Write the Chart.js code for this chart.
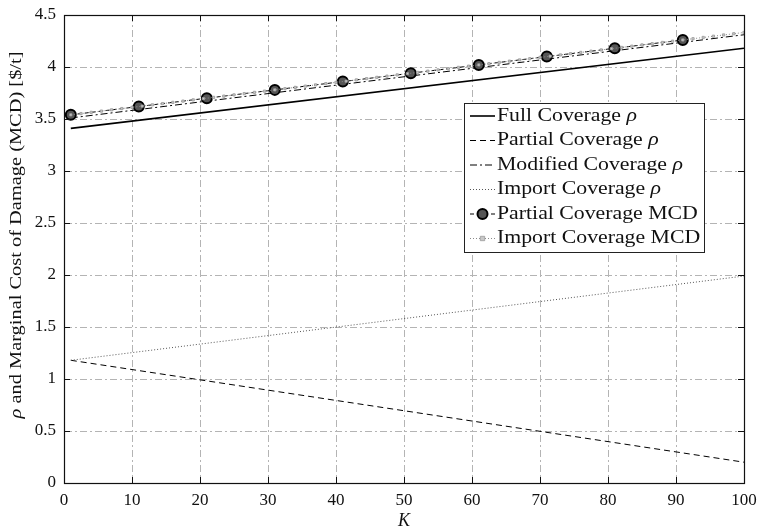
<!DOCTYPE html>
<html>
<head>
<meta charset="utf-8">
<script src="https://cdn.jsdelivr.net/npm/chart.js@4/dist/chart.umd.min.js"></script>
<style>
  html, body { margin: 0; padding: 0; background: #fff; }
  #wrap { width: 759px; height: 531px; }
</style>
</head>
<body>
<div id="wrap"><canvas id="c" width="759" height="531"></canvas></div>
<script>
// ---- data ----
const kEnds = [1, 100];
const fullRho = [3.41, 4.18];
const partialRho = [1.18, 0.20];
const modifiedRho = [3.51, 4.31];
const importRho = [1.18, 1.99];

const kMcd = [1, 11, 21, 31, 41, 51, 61, 71, 81, 91];
const partialMcd = [3.54, 3.62, 3.70, 3.78, 3.86, 3.94, 4.02, 4.10, 4.18, 4.26];

const kImportMcd = [1, 2.5, 4, 5.5, 7, 8.5, 10, 11.5, 13, 14.5, 16, 17.5, 19, 20.5, 22, 23.5,
  25, 26.5, 28, 29.5, 31, 32.5, 34, 35.5, 37, 38.5, 40, 41.5, 43, 44.5, 46, 47.5, 49, 50.5,
  52, 53.5, 55, 56.5, 58, 59.5, 61, 62.5, 64, 65.5, 67, 68.5, 70, 71.5, 73, 74.5, 76, 77.5,
  79, 80.5, 82, 83.5, 85, 86.5, 88, 89.5, 91, 92.5, 94, 95.5, 97, 98.5, 100];
const importMcd = [3.540, 3.552, 3.564, 3.576, 3.588, 3.600, 3.612, 3.624, 3.636, 3.648,
  3.660, 3.672, 3.684, 3.696, 3.708, 3.720, 3.732, 3.744, 3.756, 3.768,
  3.780, 3.792, 3.804, 3.816, 3.828, 3.840, 3.852, 3.864, 3.876, 3.888,
  3.900, 3.912, 3.924, 3.936, 3.948, 3.960, 3.972, 3.984, 3.996, 4.008,
  4.020, 4.032, 4.044, 4.056, 4.068, 4.080, 4.092, 4.104, 4.116, 4.128,
  4.140, 4.152, 4.164, 4.176, 4.188, 4.200, 4.212, 4.224, 4.236, 4.248,
  4.260, 4.272, 4.284, 4.296, 4.308, 4.320, 4.332];

const xTickValues = [0, 10, 20, 30, 40, 50, 60, 70, 80, 90, 100];
const xTickLabels = ['0', '10', '20', '30', '40', '50', '60', '70', '80', '90', '100'];
const yTickValues = [0, 0.5, 1, 1.5, 2, 2.5, 3, 3.5, 4, 4.5];
const yTickLabels = ['0', '0.5', '1', '1.5', '2', '2.5', '3', '3.5', '4', '4.5'];

const legendLabels = [
  ['Full Coverage ', 'ρ'],
  ['Partial Coverage ', 'ρ'],
  ['Modified Coverage ', 'ρ'],
  ['Import Coverage ', 'ρ'],
  ['Partial Coverage MCD', ''],
  ['Import Coverage MCD', '']
];

// ---- helpers ----
const SERIF = '"Liberation Serif", "DejaVu Serif", serif';
const WIDE = 1.2;   // horizontal stretch for the wide book-style lettering
const pts = (xs, ys) => xs.map((x, i) => ({ x: x, y: ys[i] }));

const DASH_DOT = [7, 3, 2, 3];

const datasets = [
  { label: legendLabels[0].join(''), data: pts(kEnds, fullRho), borderColor: '#000', borderWidth: 1.6,
    pointRadius: 0, order: 5 },
  { label: legendLabels[1].join(''), data: pts(kEnds, partialRho), borderColor: '#000', borderWidth: 1,
    borderDash: [6, 4], pointRadius: 0, order: 4 },
  { label: legendLabels[2].join(''), data: pts(kEnds, modifiedRho), borderColor: '#000', borderWidth: 1,
    borderDash: DASH_DOT, pointRadius: 0, order: 3 },
  { label: legendLabels[3].join(''), data: pts(kEnds, importRho), borderColor: '#555', borderWidth: 1,
    borderDash: [1, 2], pointRadius: 0, order: 2 },
  { label: legendLabels[4].join(''), data: pts(kMcd, partialMcd), borderColor: '#000', borderWidth: 1,
    borderDash: [4, 3], pointRadius: 5, pointStyle: 'circle', pointBackgroundColor: '#555',
    pointBorderColor: '#000', pointBorderWidth: 2, order: 1 },
  { label: legendLabels[5].join(''), data: pts(kImportMcd, importMcd), borderColor: '#8a8a8a', borderWidth: 1,
    borderDash: [1, 2], pointRadius: 1.6, pointStyle: 'rect', pointBackgroundColor: '#c8c8c8',
    pointBorderColor: '#9a9a9a', pointBorderWidth: 0.8, order: 0 }
];

// draws text stretched horizontally, starting at x (left aligned)
function wideText(ctx, text, x, y, k) {
  const s = k || WIDE;
  ctx.save();
  ctx.translate(x, y);
  ctx.scale(s, 1);
  ctx.textAlign = 'left';
  ctx.fillText(text, 0, 0);
  ctx.restore();
  return ctx.measureText(text).width * s;
}

// frame, inward ticks, axis titles and the boxed legend
const decorations = {
  id: 'decorations',
  afterDraw(chart) {
    const ctx = chart.ctx;
    const a = chart.chartArea;
    const xs = chart.scales.x, ys = chart.scales.y;
    ctx.save();

    // inward tick marks on all four sides
    ctx.strokeStyle = '#111';
    ctx.lineWidth = 1;
    ctx.setLineDash([]);
    const tl = 6;
    ctx.beginPath();
    xTickValues.forEach(v => {
      const px = Math.round(xs.getPixelForValue(v)) + 0.5;
      ctx.moveTo(px, a.bottom); ctx.lineTo(px, a.bottom - tl);
      ctx.moveTo(px, a.top); ctx.lineTo(px, a.top + tl);
    });
    yTickValues.forEach(v => {
      const py = Math.round(ys.getPixelForValue(v)) + 0.5;
      ctx.moveTo(a.left, py); ctx.lineTo(a.left + tl, py);
      ctx.moveTo(a.right, py); ctx.lineTo(a.right - tl, py);
    });
    ctx.stroke();

    // plot frame
    ctx.strokeStyle = '#111';
    ctx.lineWidth = 1.2;
    ctx.strokeRect(Math.round(a.left) + 0.5, Math.round(a.top) + 0.5,
      Math.round(a.right - a.left), Math.round(a.bottom - a.top));

    // legend box
    const lx = 464, ly = 103, lw = 240, rowH = 24.5;
    const lh = rowH * legendLabels.length + 2;
    ctx.fillStyle = '#fff';
    ctx.fillRect(lx, ly, lw, lh);
    ctx.strokeStyle = '#222';
    ctx.lineWidth = 1;
    ctx.strokeRect(lx + 0.5, ly + 0.5, lw, lh);

    const fs = 18, legWide = 1.21;
    legendLabels.forEach((parts, i) => {
      const ds = datasets[i];
      const cy = ly + 13 + i * rowH;
      const x0 = lx + 6, x1 = lx + 31;
      ctx.save();
      ctx.strokeStyle = ds.borderColor;
      ctx.lineWidth = ds.borderWidth;
      ctx.setLineDash(ds.borderDash || []);
      ctx.beginPath();
      ctx.moveTo(x0, cy); ctx.lineTo(x1, cy);
      ctx.stroke();
      ctx.setLineDash([]);
      if (ds.pointRadius > 0) {
        const mx = (x0 + x1) / 2;
        ctx.fillStyle = ds.pointBackgroundColor;
        ctx.strokeStyle = ds.pointBorderColor;
        ctx.lineWidth = ds.pointBorderWidth;
        ctx.beginPath();
        if (ds.pointStyle === 'rect') {
          const r = ds.pointRadius + 0.6;
          ctx.rect(mx - r, cy - r, 2 * r, 2 * r);
        } else {
          ctx.arc(mx, cy, ds.pointRadius, 0, Math.PI * 2);
        }
        ctx.fill(); ctx.stroke();
      }
      ctx.restore();

      ctx.fillStyle = '#111';
      ctx.textBaseline = 'middle';
      let tx = x1 + 2;
      ctx.font = fs + 'px ' + SERIF;
      tx += wideText(ctx, parts[0], tx, cy, legWide);
      if (parts[1]) {
        ctx.font = 'italic ' + fs + 'px ' + SERIF;
        wideText(ctx, parts[1], tx, cy, legWide);
      }
    });

    // x axis title
    ctx.fillStyle = '#111';
    ctx.font = 'italic 18px ' + SERIF;
    ctx.textAlign = 'center';
    ctx.textBaseline = 'middle';
    ctx.fillText('K', (a.left + a.right) / 2, 521);

    // y axis title: italic rho followed by upright text
    const t1 = 'ρ', t2 = ' and Marginal Cost of Damage (MCD) [$/t]';
    ctx.save();
    ctx.translate(17, 235);
    ctx.rotate(-Math.PI / 2);
    ctx.font = 'italic 17px ' + SERIF;
    const w1 = ctx.measureText(t1).width * WIDE;
    ctx.font = '17px ' + SERIF;
    const w2 = ctx.measureText(t2).width * WIDE;
    const sx = -(w1 + w2) / 2;
    ctx.font = 'italic 17px ' + SERIF;
    wideText(ctx, t1, sx, 0);
    ctx.font = '17px ' + SERIF;
    wideText(ctx, t2, sx + w1, 0);
    ctx.restore();

    ctx.restore();
  }
};

new Chart(document.getElementById('c'), {
  type: 'line',
  data: { datasets: datasets },
  options: {
    responsive: false,
    animation: false,
    devicePixelRatio: 1,
    layout: { padding: { top: 15, right: 15, left: 0, bottom: 0 } },
    plugins: { legend: { display: false }, tooltip: { enabled: false } },
    elements: { line: { tension: 0, fill: false } },
    scales: {
      x: {
        type: 'linear', min: 0, max: 100,
        afterFit: s => { s.height = 48; s.paddingLeft = 0; s.paddingRight = 0; },
        afterBuildTicks: s => { s.ticks = xTickValues.map(v => ({ value: v })); },
        ticks: {
          padding: 7, color: '#111', maxRotation: 0,
          font: { family: SERIF, size: 17 },
          callback: (v) => xTickLabels[xTickValues.indexOf(v)]
        },
        grid: { color: '#b4b4b4', lineWidth: 1, drawTicks: false },
        border: { display: true, color: '#111', dash: DASH_DOT }
      },
      y: {
        type: 'linear', min: 0, max: 4.5,
        afterFit: s => { s.width = 64; s.paddingTop = 0; s.paddingBottom = 0; },
        afterBuildTicks: s => { s.ticks = yTickValues.map(v => ({ value: v })); },
        ticks: {
          padding: 8, color: '#111',
          font: { family: SERIF, size: 17 },
          callback: (v) => yTickLabels[yTickValues.indexOf(v)]
        },
        grid: { color: '#b4b4b4', lineWidth: 1, drawTicks: false },
        border: { display: true, color: '#111', dash: DASH_DOT }
      }
    }
  },
  plugins: [decorations]
});
</script>
</body>
</html>
